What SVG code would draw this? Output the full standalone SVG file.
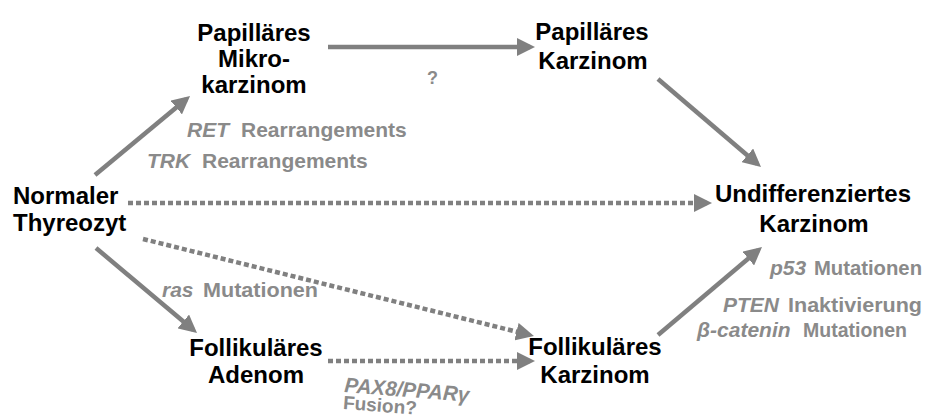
<svg xmlns="http://www.w3.org/2000/svg" width="934" height="419" viewBox="0 0 934 419">
<style>
.n{font-family:"Liberation Sans",Arial,sans-serif;font-weight:bold;font-size:24px;fill:#000;text-anchor:middle}
.l{font-family:"Liberation Sans",Arial,sans-serif;font-weight:bold;font-size:21px;fill:#8a8a8a}
.i{font-style:italic}
.s{stroke:#808080;stroke-width:4.5;fill:none;marker-end:url(#ah)}
.d{stroke:#808080;stroke-width:4.5;fill:none;stroke-dasharray:5 3;marker-end:url(#ah)}
</style>
<defs>
<marker id="ah" markerUnits="userSpaceOnUse" markerWidth="18" markerHeight="18" refX="13" refY="9" orient="auto">
<path d="M0,0 L18,9 L0,18 z" fill="#808080"/>
</marker>
</defs>
<rect width="934" height="419" fill="#fff"/>
<g id="connectors">
<line class="s" x1="95" y1="175" x2="186.2" y2="99.2"/>
<line class="s" x1="328" y1="47" x2="530" y2="47"/>
<line class="s" x1="658" y1="79" x2="757.2" y2="163.8"/>
<line class="d" x1="128" y1="203" x2="707" y2="203"/>
<line class="s" x1="96" y1="248" x2="193.2" y2="329.8"/>
<line class="d" x1="143" y1="239" x2="529.1" y2="334.8"/>
<line class="d" x1="328" y1="361" x2="530" y2="361"/>
<line class="s" x1="658" y1="335" x2="758.2" y2="250.2"/>
</g>
<g id="normaler">
<text class="n" style="text-anchor:start"><tspan x="13" y="204">Normaler</tspan><tspan x="13" y="231">Thyreozyt</tspan></text>
</g>
<g id="pap-mikro">
<text class="n"><tspan x="254" y="41">Papilläres</tspan><tspan x="254" y="67">Mikro-</tspan><tspan x="254" y="93">karzinom</tspan></text>
</g>
<g id="pap-karz">
<text class="n"><tspan x="592" y="40">Papilläres</tspan><tspan x="593" y="69">Karzinom</tspan></text>
</g>
<g id="undiff">
<text class="n"><tspan x="813" y="202">Undifferenziertes</tspan><tspan x="814" y="232">Karzinom</tspan></text>
</g>
<g id="foll-adenom">
<text class="n"><tspan x="256" y="356">Follikuläres</tspan><tspan x="256" y="383">Adenom</tspan></text>
</g>
<g id="foll-karz">
<text class="n"><tspan x="595" y="355">Follikuläres</tspan><tspan x="595" y="383">Karzinom</tspan></text>
</g>
<g id="labels">
<text class="l" x="427" y="84" style="font-size:18px">?</text>
<text class="l" y="137"><tspan class="i" x="187">RET</tspan><tspan x="241">Rearrangements</tspan></text>
<text class="l" y="168"><tspan class="i" x="147">TRK</tspan><tspan x="202">Rearrangements</tspan></text>
<text class="l" y="297"><tspan class="i" x="162">ras</tspan><tspan x="203" textLength="115" lengthAdjust="spacingAndGlyphs">Mutationen</tspan></text>
<text class="l" y="275"><tspan class="i" x="770">p53</tspan><tspan x="814" textLength="108" lengthAdjust="spacingAndGlyphs">Mutationen</tspan></text>
<text class="l" y="312"><tspan class="i" x="723">PTEN</tspan><tspan x="788" textLength="134" lengthAdjust="spacingAndGlyphs">Inaktivierung</tspan></text>
<text class="l" y="337"><tspan class="i" x="697">β-catenin</tspan><tspan x="803" textLength="104" lengthAdjust="spacingAndGlyphs">Mutationen</tspan></text>
<g transform="translate(344,392) rotate(4.5)">
<text class="l i" x="0" y="0" textLength="125" lengthAdjust="spacingAndGlyphs">PAX8/PPARγ</text>
<text class="l" x="0" y="17" style="font-size:19px">Fusion?</text>
</g>
</g>
</svg>
